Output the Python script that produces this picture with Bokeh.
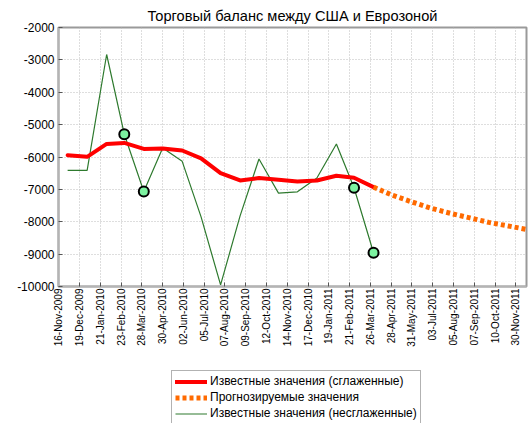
import math
import pandas as pd
from bokeh.plotting import figure
from bokeh.layouts import column
from bokeh.models import Range1d, FixedTicker, Legend, LegendItem, ColumnDataSource
from bokeh.embed import file_html
from bokeh.resources import INLINE

title_text = "Торговый баланс между США и Еврозоной"

known_dates = ["2009-11-30", "2009-12-31", "2010-01-31", "2010-02-28", "2010-03-31",
               "2010-04-30", "2010-05-31", "2010-06-30", "2010-07-31", "2010-08-31",
               "2010-09-30", "2010-10-31", "2010-11-30", "2010-12-31", "2011-01-31",
               "2011-02-28", "2011-03-31"]
raw_values = [-6414, -6414, -2834, -5297, -7065, -5721, -6134, -7850, -9950, -7820,
              -6062, -7117, -7075, -6651, -5597, -6951, -8958]
smoothed_values = [-5945, -5995, -5595, -5565, -5750, -5735, -5800, -6040, -6496, -6724,
                   -6651, -6703, -6755, -6724, -6579, -6641, -6931]

forecast_dates = ["2011-03-31", "2011-04-30", "2011-05-31", "2011-06-30", "2011-07-31",
                  "2011-08-31", "2011-09-30", "2011-10-31", "2011-11-30"]
forecast_values = [-6931, -7180, -7390, -7580, -7740, -7880, -8020, -8130, -8240]

marked_dates = ["2010-02-28", "2010-03-31", "2011-02-28", "2011-03-31"]
marked_values = [-5297, -7065, -6951, -8958]

tick_labels = ["16-Nov-2009", "19-Dec-2009", "21-Jan-2010", "23-Feb-2010", "28-Mar-2010",
               "30-Apr-2010", "02-Jun-2010", "05-Jul-2010", "07-Aug-2010", "09-Sep-2010",
               "12-Oct-2010", "14-Nov-2010", "17-Dec-2010", "19-Jan-2011", "21-Feb-2011",
               "26-Mar-2011", "28-Apr-2011", "31-May-2011", "03-Jul-2011", "05-Aug-2011",
               "07-Sep-2011", "10-Oct-2011", "30-Nov-2011"]
tick_step_days = 33
y_ticks = [-10000, -9000, -8000, -7000, -6000, -5000, -4000, -3000, -2000]

legend_labels = ["Известные значения (сглаженные)",
                 "Прогнозируемые значения",
                 "Известные значения (несглаженные)"]

origin = pd.Timestamp("2009-11-16")


def to_days(dates):
    return [(pd.Timestamp(d) - origin).days for d in dates]


x_known = to_days(known_dates)
x_fc = to_days(forecast_dates)
x_mark = to_days(marked_dates)
x_ticks = [i * tick_step_days for i in range(len(tick_labels))]

FONT = "Liberation Sans"

RAW_STYLE = dict(line_color="#2e7a2e", line_width=1.2)
SMOOTH_STYLE = dict(line_color="#ff0000", line_width=4, line_join="round", line_cap="round")
FC_STYLE = dict(line_color="#ff6a00", line_width=5, line_dash="4 3")

p = figure(width=531, height=355, output_backend="svg", toolbar_location=None,
           x_range=Range1d(-0.5, 743), y_range=Range1d(-10000, -2000),
           min_border_left=58, min_border_right=5, min_border_top=27,
           min_border_bottom=69)
p.outline_line_color = "#9a9a9a"
p.outline_line_width = 2
p.background_fill_color = "white"
p.border_fill_color = "white"

p.title.text = title_text
p.title.align = "center"
p.title.text_font = FONT
p.title.text_font_size = "14.6px"
p.title.text_font_style = "normal"
p.title.text_color = "black"
p.title.standoff = 8

xt = FixedTicker(ticks=x_ticks)
yt = FixedTicker(ticks=y_ticks)

xa = p.xaxis[0]
xa.ticker = xt
xa.major_label_overrides = {t: l for t, l in zip(x_ticks, tick_labels)}
xa.major_label_orientation = math.pi / 2
xa.major_label_text_font = FONT
xa.major_label_text_font_size = "10px"
xa.major_label_text_color = "black"
xa.major_label_standoff = 2
xa.axis_line_color = "#b4b4b4"
xa.axis_line_width = 2
xa.major_tick_in = 4
xa.major_tick_out = 0
xa.major_tick_line_color = "#555555"
xa.minor_tick_line_color = None

ya = p.yaxis[0]
ya.ticker = yt
ya.major_label_overrides = {t: str(t) for t in y_ticks}
ya.major_label_text_font = FONT
ya.major_label_text_font_size = "12px"
ya.major_label_text_color = "black"
ya.major_label_standoff = 4
ya.axis_line_color = "#b4b4b4"
ya.axis_line_width = 2
ya.major_tick_in = 4
ya.major_tick_out = 0
ya.major_tick_line_color = "#555555"
ya.minor_tick_line_color = None

p.xgrid.ticker = xt
p.ygrid.ticker = yt
for g in (p.xgrid[0], p.ygrid[0]):
    g.grid_line_color = "#bdbdbd"
    g.grid_line_dash = "1 2"
    g.grid_line_width = 1

src_known = ColumnDataSource(dict(x=x_known, raw=raw_values, smooth=smoothed_values))
src_fc = ColumnDataSource(dict(x=x_fc, y=forecast_values))
src_mark = ColumnDataSource(dict(x=x_mark, y=marked_values))

p.line("x", "raw", source=src_known, **RAW_STYLE)
p.line("x", "smooth", source=src_known, **SMOOTH_STYLE)
p.line("x", "y", source=src_fc, **FC_STYLE)
p.scatter("x", "y", source=src_mark, size=10, marker="circle", fill_color="#7cf2a0",
          line_color="black", line_width=2)

# legend strip below the chart (its renderers reuse the data, which lies outside
# this strip's ranges, so only the legend itself is visible)
lg = figure(width=531, height=68, output_backend="svg", toolbar_location=None,
            x_range=Range1d(0, 1), y_range=Range1d(0, 1),
            x_axis_type=None, y_axis_type=None, min_border=0)
lg.outline_line_color = None
lg.grid.visible = False
lg.background_fill_color = "white"
lg.border_fill_color = "white"
l_smooth = lg.line("x", "smooth", source=src_known, **SMOOTH_STYLE)
l_fc = lg.line("x", "y", source=src_fc, **FC_STYLE)
l_raw = lg.line("x", "raw", source=src_known, **RAW_STYLE)

legend = Legend(items=[LegendItem(label=legend_labels[0], renderers=[l_smooth]),
                       LegendItem(label=legend_labels[1], renderers=[l_fc]),
                       LegendItem(label=legend_labels[2], renderers=[l_raw])],
                location=(113, -1))
legend.label_text_font = FONT
legend.label_text_font_size = "12px"
legend.label_text_color = "black"
legend.glyph_width = 32
legend.glyph_height = 13
legend.label_height = 13
legend.label_standoff = 3
legend.spacing = 2
legend.padding = 3
legend.margin = 0
legend.border_line_color = "#666666"
legend.border_line_width = 1
legend.background_fill_color = "white"
legend.background_fill_alpha = 1
lg.add_layout(legend, "center")

layout = column(p, lg, spacing=0)
open("out.html", "w").write(file_html(layout, INLINE))
